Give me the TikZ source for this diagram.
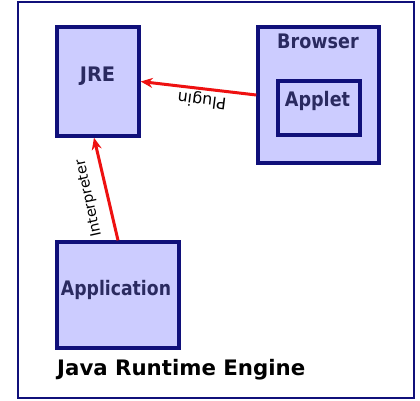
\documentclass[tikz,border=0pt]{standalone}
\usepackage{fontspec}
\setmainfont{DejaVu Sans}
\usetikzlibrary{arrows.meta}
\definecolor{boxfill}{HTML}{CCCCFF}
\definecolor{boxline}{HTML}{10107A}
\definecolor{boxtext}{HTML}{2A2A60}
\definecolor{arrowred}{HTML}{EE1111}
\tikzset{
  compbox/.style={draw=boxline, fill=boxfill, line width=3.4pt, inner sep=0pt},
  boxlabel/.style={text=boxtext, font=\bfseries\fontsize{20}{20}\selectfont, inner sep=0pt, anchor=base, xscale=0.88},
  conn/.style={draw=arrowred, line width=3pt, -{Stealth[length=12pt,width=10pt]}},
  connlabel/.style={font=\fontsize{14.5}{14.5}\selectfont, inner sep=0pt}
}
\begin{document}
\begin{tikzpicture}[x=1pt,y=-1pt]
\useasboundingbox (0,0) rectangle (420,400);
\fill[white] (0,0) rectangle (420,400);
\node[draw=boxline, line width=2.2pt, minimum width=396pt, minimum height=396pt, inner sep=0pt] (frame) at (216,200) {};
\node[compbox, minimum width=82pt, minimum height=109pt] (JRE) at (98,81.5) {};
\node[boxlabel, xscale=1.1] (JREl) at (97.5,81.7) {JRE};
\node[compbox, minimum width=121pt, minimum height=136pt] (Browser) at (318.5,95) {};
\node[boxlabel] (Browserl) at (318,48.3) {Browser};
\node[compbox, minimum width=82pt, minimum height=54pt] (Applet) at (319,108) {};
\node[boxlabel] (Appletl) at (317.5,106.7) {Applet};
\node[compbox, minimum width=122pt, minimum height=106pt] (App) at (118,295) {};
\node[boxlabel, xscale=0.98] (Appl) at (116,295) {Application};
\node[font=\bfseries\fontsize{21.3}{21.3}\selectfont, anchor=base west, inner sep=0pt] (title) at (57,375) {Java Runtime Engine};
\draw[conn] (Browser.west) -- (JRE.east);
\node[connlabel, rotate=172.8, font=\fontsize{16}{16}\selectfont] (plug) at (202,100) {Plugin};
\draw[conn] (App.north) -- ([xshift=-4pt]JRE.south);
\node[connlabel, rotate=102.4] (interp) at (89,198) {Interpreter};
\end{tikzpicture}
\end{document}
